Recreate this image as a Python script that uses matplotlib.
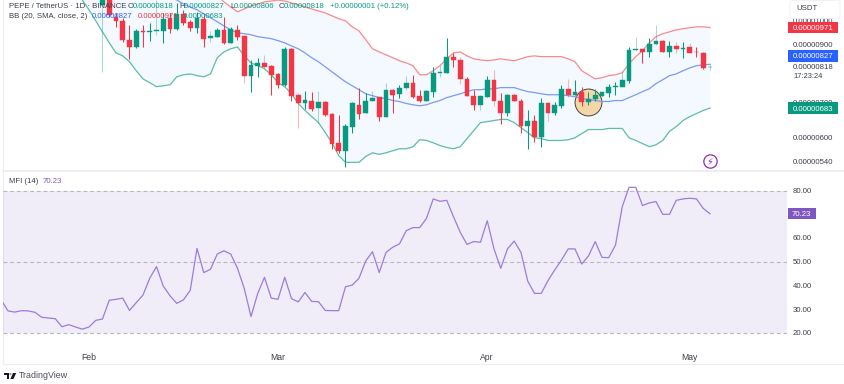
import matplotlib
matplotlib.use("Agg")
import matplotlib.pyplot as plt
import numpy as np
from matplotlib.lines import Line2D
from matplotlib.patches import Rectangle, Polygon, Circle, FancyBboxPatch
from matplotlib.ticker import FixedLocator, FixedFormatter, NullLocator

# Prices are in units of 1e-8 USDT. Day 0 is the first fully visible candle.
opens = [1072,1119,1017,1000,921,892,957,953,957,957,1013,966,1031,996,970,1009,929,933,961,908,961,937,787,822,832,822,793,756,885,724,697,706,684,700,667,587,567,630,693,670,706,718,658,740,727,747,763,721,706,734,797,797,855,843,776,721,693,718,773,706,670,724,706,633,647,603,697,670,690,743,724,734,700,712,721,731,750,750,770,881,885,873,904,917,873,896,885,892,873,869,818]
highs = [1195,1144,1035,1013,983,966,983,991,1095,1035,1035,1081,1049,1004,1040,1026,957,970,1017,974,983,941,843,851,862,825,797,892,889,731,737,734,737,703,670,664,638,700,747,731,737,718,763,743,756,787,790,740,740,818,825,929,869,855,783,740,724,787,807,731,727,727,712,676,664,715,700,700,756,776,773,750,734,743,734,760,766,804,892,933,885,929,983,921,917,913,913,908,892,873,827]
lows = [800,1017,974,913,847,889,892,917,941,908,949,961,983,957,949,892,913,933,904,908,921,763,734,783,814,724,747,753,706,627,681,673,641,661,572,562,527,614,650,670,703,647,658,670,715,740,715,700,703,718,783,797,818,760,721,676,676,718,690,638,661,703,614,572,590,577,647,664,684,718,724,690,693,703,721,718,724,750,763,877,832,855,900,873,855,869,851,869,855,811,806]
closes = [1144,1026,1000,921,892,957,953,957,961,1009,966,1031,991,970,1013,925,937,961,908,966,933,787,825,832,818,790,756,885,721,697,709,681,700,664,585,567,633,697,667,706,715,658,740,724,747,763,718,706,737,797,800,855,843,776,721,693,721,773,703,670,724,706,633,647,603,697,670,693,743,724,734,700,712,724,734,750,753,773,881,885,873,904,917,873,896,885,889,869,871,814,818]

# Bollinger bands, starting at day -3
bb_upper = [1420,1410,1400,1390,1380,1370,1360,1345,1330,1315,1300,1285,1270,1250,1230,1210,1190,1170,1150,1130,1115,1086,1062,1040,1053,1067,1076,1086,1090,1095,1090,1081,1072,1062,1053,1044,1035,1022,1009,1000,974,957,921,885,873,862,851,840,832,822,790,790,804,822,847,869,873,858,847,843,840,843,847,843,840,847,855,858,855,855,855,855,847,836,804,790,776,780,787,790,797,829,855,877,908,933,945,953,961,966,970,974,974,971]
bb_basis = [1290,1280,1270,1260,1245,1230,1215,1200,1185,1170,1155,1140,1125,1110,1095,1076,1062,1049,1031,1013,996,978,961,949,945,941,933,929,925,917,908,896,885,869,851,836,818,800,783,766,753,740,727,721,715,712,706,703,697,693,690,693,700,706,715,721,727,734,740,740,743,743,747,747,747,740,734,731,727,724,724,724,721,718,712,709,706,703,703,706,706,715,724,734,743,760,773,787,793,804,814,822,825,827]
bb_lower = [1095,1049,1000,953,908,869,858,836,804,776,763,750,753,756,783,790,793,787,783,793,851,873,885,892,858,832,822,811,790,763,750,727,697,676,658,641,614,587,555,539,539,539,553,562,558,562,567,572,572,577,595,593,587,580,575,572,577,598,619,641,644,647,650,650,641,627,614,600,598,593,593,593,595,600,611,622,622,622,625,625,625,600,593,585,577,582,593,617,630,647,658,667,676,683]

# MFI (14), starting at day -15
mfi = [33.8,29.2,28.7,29.3,29.2,28.6,26.5,26.2,25.9,22.5,23.4,22.4,21.5,22.4,25.2,25.8,33.7,34.1,34.6,29.4,32.7,35.9,43.0,47.9,39.7,35.6,32.4,33.9,37.9,55.6,45.4,46.8,53.2,54.6,53.2,47.2,38.7,26.8,36.6,43.4,34.6,34.1,43.4,34.4,33.0,37.0,33.2,33.1,29.4,29.3,29.3,39.4,40.1,43.0,50.3,54.2,45.4,53.9,56.1,57.5,63.1,64.4,64.4,68.3,76.5,75.5,75.9,69.0,62.4,57.3,58.5,58.2,67.3,55.4,47.2,55.4,58.7,53.9,41.8,36.6,36.6,42.0,46.5,50.7,55.4,55.4,49.0,52.4,58.5,51.8,51.7,57.0,73.2,81.4,81.4,73.7,74.8,75.4,70.0,70.0,75.9,76.5,76.8,76.5,72.5,70.23]

price_ticks = [540,600,700,818,900,1000]
price_labels = ["0.00000540","0.00000600","0.00000700","0.00000818","0.00000900","0.00001000"]
mfi_ticks = [20,30,40,50,60,70,80]
mfi_labels = ["20.00","30.00","40.00","50.00","60.00","70.00","80.00"]
month_days = [-2,26,57,87]
month_labels = ["Feb","Mar","Apr","May"]
faint_wicks = [0,8,16,21,24,29,32,40,42,45,50,53,56,58,66,69,77,79,82,85,87,90]
marked_day, marked_price = 72, 700

GREEN, RED = "#089981", "#F23645"
TXT = "#3b3f4a"
PURPLE = "#7E57C2"
FONT = "Liberation Sans"
FS = 5.6
plt.rcParams["font.family"] = FONT

W, H = 844, 384
fig = plt.figure(figsize=(W/100, H/100), dpi=100, facecolor="white")

def rect(l, t, r, b):
    return [l/W, 1-b/H, (r-l)/W, (b-t)/H]

ax = fig.add_axes(rect(3, 0, 787, 171))
ax2 = fig.add_axes(rect(3, 171, 787, 345))
xlim = (-14.74, 101.41)

# ---- price pane
days = np.arange(len(opens))
band_days = np.arange(-3, -3+len(bb_upper))
ax.set_yscale("log")
ax.set_xlim(*xlim)
ax.set_ylim(519, 1095)
ax.fill_between(band_days, bb_lower, bb_upper, color="#2196F3", alpha=0.05, lw=0, zorder=1)
ax.plot(band_days, bb_upper, color="#F88A8E", lw=0.9, zorder=2)
ax.plot(band_days, bb_lower, color="#5DBDA9", lw=0.9, zorder=2)
ax.plot(band_days, bb_basis, color="#7C9AF6", lw=0.9, zorder=4)
ax.scatter([marked_day], [marked_price], s=375, facecolor="#F6D6A6", edgecolor="#444444", lw=0.7, zorder=3)
for d, o, h, l, c in zip(days, opens, highs, lows, closes):
    col = GREEN if c >= o else RED
    ax.plot([d, d], [l, h], color=col, lw=0.75, alpha=0.35 if d in faint_wicks else 1, solid_capstyle="butt", zorder=5)
    ax.bar(d, abs(c-o), bottom=min(o, c), width=0.68, color=col, edgecolor=col, lw=0.3, zorder=6)
ax.yaxis.tick_right()
ax.yaxis.set_major_locator(FixedLocator(price_ticks))
ax.yaxis.set_major_formatter(FixedFormatter(price_labels))
ax.yaxis.set_minor_locator(NullLocator())
ax.tick_params(axis="y", which="both", length=0, pad=4.3, labelsize=FS, labelcolor=TXT)
ax.set_xticks([])
for s in ax.spines.values():
    s.set_visible(False)
ax.patch.set_alpha(0)

# ---- MFI pane
ax2.set_xlim(*xlim)
ax2.set_ylim(14.8, 88.3)
ax2.axhspan(20, 80, color=PURPLE, alpha=0.1, lw=0, zorder=1)
for lvl in (80, 50, 20):
    ax2.axhline(lvl, color="#b9b5c2", lw=0.8, dashes=(3.5, 2.5), zorder=2)
ax2.plot(np.arange(-15, -15+len(mfi)), mfi, color="#9C7BDD", lw=0.9, zorder=3)
ax2.yaxis.tick_right()
ax2.set_yticks(mfi_ticks)
ax2.set_yticklabels(mfi_labels)
ax2.set_xticks(month_days)
ax2.set_xticklabels(month_labels)
ax2.tick_params(axis="y", length=0, pad=4.3, labelsize=FS, labelcolor=TXT)
ax2.tick_params(axis="x", length=0, pad=5.5, labelsize=6.2, labelcolor=TXT)
for s in ax2.spines.values():
    s.set_visible(False)
ax2.patch.set_alpha(0)

# ---- tags on the axis (the 827 tag is pushed up off the 818 last-price label)
def tag(a, value, text, color, width=50, shift=0):
    yd = a.transData.transform((0, value))[1]
    yfig = (yd + shift) / H
    fig.add_artist(Rectangle((787.7/W, yfig-5.7/H), width/W, 11.4/H, transform=fig.transFigure, color=color, lw=0, zorder=10))
    fig.text((787.7+width/2)/W, yfig, text, color="white", fontsize=FS, ha="center", va="center_baseline", zorder=11)

tag(ax, 971, "0.00000971", RED)
tag(ax, 827, "0.00000827", "#2962FF", shift=8.3)
tag(ax, 683, "0.00000683", GREEN)
tag(ax2, 70.23, "70.23", PURPLE, width=28)

def T(x, y, s, color=TXT, **kw):
    kw.setdefault("fontsize", FS)
    return fig.text(x/W, 1-y/H, s, color=color, ha=kw.pop("ha", "left"), va="center", zorder=12, **kw)

# header
T(9, 6, "PEPE / TetherUS · 1D · BINANCE")
for x, s in [(128, "O"), (179, "H"), (230, "L"), (279, "C")]:
    T(x, 6, s)
for x, s in [(133, "0.00000818"), (184, "0.00000827"), (234, "0.00000806"), (284, "0.00000818"), (330, "+0.00000001 (+0.12%)")]:
    T(x, 6, s, color=GREEN)
T(9, 17, "BB (20, SMA, close, 2)")
T(92, 17, "0.00000827", color="#2962FF")
T(138, 17, "0.00000971", color=RED)
T(183, 17, "0.00000683", color=GREEN)
T(9, 181, "MFI (14)")
T(43, 181, "70.23", color=PURPLE)
T(793, 77, "17:23:24", fontsize=5.4)

# USDT box
fig.add_artist(FancyBboxPatch((790/W, 1-18.5/H), 50/W, 18/H, boxstyle="round,pad=0,rounding_size=0.004",
                              transform=fig.transFigure, fc="white", ec="#f0f0f3", lw=0.6, zorder=10))
T(796, 8, "USDT", zorder=None) if False else T(796, 8, "USDT")

# lightning icon
ax.scatter([90], [541], s=92, facecolor="white", edgecolor="#9C27B0", lw=0.9, zorder=7)
ax.text(90, 541, "\u26a1", color="#9C27B0", fontsize=7, ha="center", va="center", zorder=8, family="DejaVu Sans")

# frame lines
for (x0, y0, x1, y1, c, lw) in [(3, 0, 3, 364, "#eeeef1", 0.8), (3, 364, 844, 364, "#eeeef1", 0.8), (3, 171.5, 844, 171.5, "#eeeef1", 1.4)]:
    fig.add_artist(Line2D([x0/W, x1/W], [1-y0/H, 1-y1/H], color=c, lw=lw, zorder=0))

# TradingView mark
logo = "#131722"
fig.add_artist(Polygon([(4/W, 1-373/H), (9/W, 1-373/H), (9/W, 1-379/H), (6.6/W, 1-379/H), (6.6/W, 1-375.2/H), (4/W, 1-375.2/H)],
                       transform=fig.transFigure, fc=logo, lw=0))
fig.add_artist(Circle((10.4/W, 1-374/H), 1.1/W, transform=fig.transFigure, fc=logo, lw=0))
fig.add_artist(Polygon([(13/W, 1-373/H), (16.2/W, 1-373/H), (13.4/W, 1-379/H), (10.4/W, 1-379/H)],
                       transform=fig.transFigure, fc=logo, lw=0))
T(19, 376, "TradingView", color="#4a4e59", fontsize=6.4)

fig.savefig("out.png", dpi=100)
